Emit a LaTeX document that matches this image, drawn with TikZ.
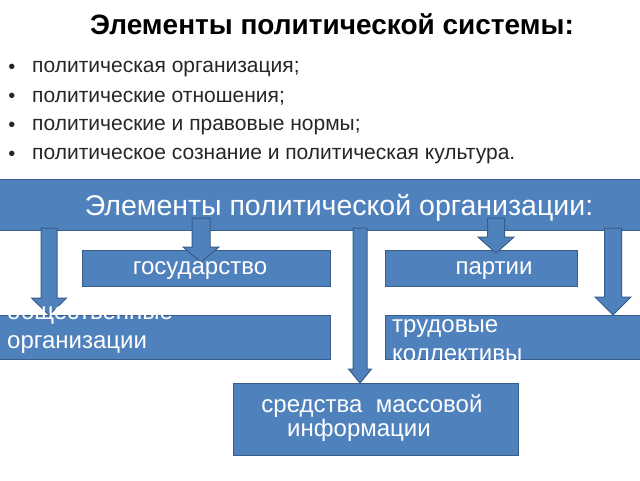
\documentclass[tikz,border=0pt]{standalone}
\usepackage{fontspec}
\setmainfont{Liberation Sans}
\usepackage{xcolor}
\usetikzlibrary{calc}

\definecolor{boxblue}{HTML}{4F81BD}
\definecolor{boxline}{HTML}{385D8A}

\tikzset{
  bluebox/.style={draw=boxline,fill=boxblue,line width=1pt,inner sep=0pt,outer sep=0pt},
  boxtext/.style={text=white,inner sep=0pt,font=\fontsize{24}{29}\selectfont},
  itemtext/.style={text=black!85,anchor=west,inner sep=0pt,font=\fontsize{21}{25}\selectfont},
  fatarrow/.style={draw=boxline,fill=boxblue,line width=1pt,line join=miter}
}

% block arrow: tail, tip, shaft half width, head half width, head length
\newcommand{\fatarrow}[5]{%
  \draw[fatarrow] ($(#1)+(-#3,0)$) -- ($(#2)+(-#3,-#5)$) -- ($(#2)+(-#4,-#5)$) -- (#2)
    -- ($(#2)+(#4,-#5)$) -- ($(#2)+(#3,-#5)$) -- ($(#1)+(#3,0)$) -- cycle;}

\begin{document}
\begin{tikzpicture}[x=1pt,y=-1pt]
  \useasboundingbox[fill=white] (0,0) rectangle (640,480);

  % title and list
  \node[font=\fontsize{28}{32}\selectfont\bfseries,inner sep=0pt] (title) at (332,24) {Элементы политической системы:};
  \node[itemtext] (i1) at (32,69) {политическая организация;};
  \node[itemtext] (i2) at (32,98) {политические отношения;};
  \node[itemtext] (i3) at (32,127) {политические и правовые нормы;};
  \node[itemtext] (i4) at (32,156) {политическое сознание и политическая культура.};
  \foreach \n in {1,...,4}
    \node[text=black!85,inner sep=0pt,font=\fontsize{20}{24}\selectfont] at (i\n.west -| 12,0) {•};

  % boxes
  \node[bluebox,minimum width=642pt,minimum height=51pt] (org) at (320,204.5) {};
  \node[bluebox,minimum width=248pt,minimum height=36pt] (gos) at (206,268) {};
  \node[bluebox,minimum width=192pt,minimum height=36pt] (part) at (481,268) {};
  \node[bluebox,minimum width=331pt,minimum height=44pt] (obsh) at (164.5,337) {};
  \node[bluebox,minimum width=256pt,minimum height=44pt] (trud) at (513,337) {};
  \node[bluebox,minimum width=285pt,minimum height=72pt] (smi) at (375.5,419) {};

  % arrow ends
  \coordinate (a1) at (49,228);
  \coordinate (a1e) at (a1 |- obsh.north);
  \coordinate (a2) at (201,218);
  \coordinate (a2e) at ($(a2 |- gos.north)+(0,12)$);
  \coordinate (a3) at (360,228);
  \coordinate (a3e) at (a3 |- smi.north);
  \coordinate (a4) at (496,218);
  \coordinate (a4e) at ($(a4 |- part.north)+(0,3)$);
  \coordinate (a5) at (613,228);
  \coordinate (a5e) at (a5 |- trud.north);

  % arrows
  \fatarrow{a1}{a1e}{8}{17.5}{17}
  \fatarrow{a2}{a2e}{9}{18}{15}
  \fatarrow{a3}{a3e}{7}{11.5}{14}
  \fatarrow{a4}{a4e}{8.5}{18}{16}
  \fatarrow{a5}{a5e}{8.5}{18}{18}

  % texts
  \node[boxtext,font=\fontsize{28.5}{32}\selectfont] (orgt) at (339,208) {Элементы политической организации:};
  \node[boxtext] (gost) at (200,271) {государство};
  \node[boxtext] (partt) at (494,271) {партии};
  \node[boxtext,anchor=west,align=left] (obsht) at (7,328) {общественные\\организации};
  \node[boxtext,anchor=west,align=left] (trudt) at (392,341) {трудовые\\коллективы};
  \node[boxtext,align=center,font=\fontsize{24}{24}\selectfont] (smit) at (372,418) {средства\ \ массовой\\информации\hspace*{26pt}};
\end{tikzpicture}
\end{document}
